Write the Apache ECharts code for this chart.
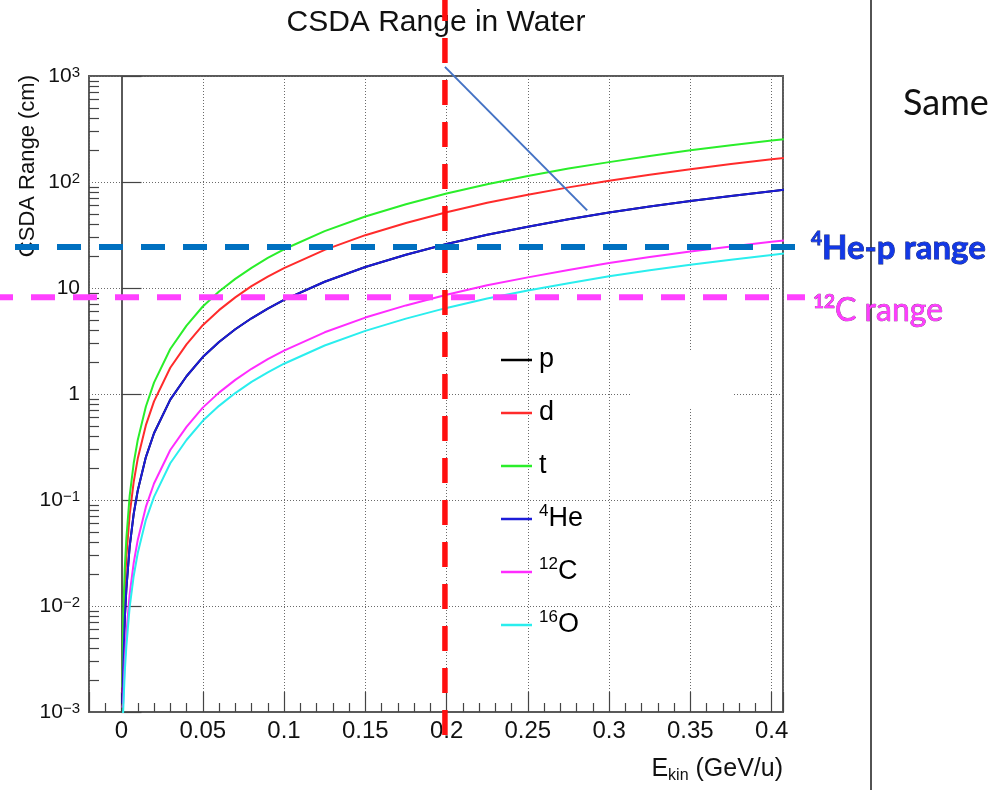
<!DOCTYPE html>
<html>
<head>
<meta charset="utf-8">
<script src="https://cdn.jsdelivr.net/npm/echarts@6/dist/echarts.min.js"></script>
<style>
  html, body { margin: 0; padding: 0; background: #ffffff; }
  #chart { width: 990px; height: 790px; }
</style>
</head>
<body>
<div id="chart"></div>
<script>
// Kinetic energy per nucleon (GeV/u)
const energies = [0.0005, 0.001, 0.002, 0.003, 0.005, 0.0075, 0.01, 0.015, 0.02, 0.03, 0.04, 0.05,
  0.06, 0.07, 0.08, 0.09, 0.10, 0.125, 0.15, 0.175, 0.20, 0.225, 0.25, 0.275, 0.30, 0.325,
  0.35, 0.375, 0.40, 0.41];

// CSDA range in water (cm)
const rangeP = [0.0012, 0.00246, 0.00756, 0.0146, 0.0362, 0.074, 0.123, 0.254, 0.426, 0.885, 1.47, 2.23,
  3.09, 4.08, 5.18, 6.40, 7.72, 11.46, 15.77, 20.56, 25.96, 31.8, 37.9, 44.5, 51.5, 58.7,
  66.2, 73.9, 81.9, 85.1];
const rangeD = [0.0015, 0.0049, 0.0151, 0.0292, 0.0724, 0.148, 0.246, 0.508, 0.852, 1.77, 2.94, 4.46,
  6.18, 8.16, 10.4, 12.8, 15.4, 22.9, 31.5, 41.1, 51.9, 63.6, 75.9, 89.0, 103, 117,
  132, 148, 164, 170];
const rangeT = [0.0017, 0.0074, 0.0227, 0.0438, 0.109, 0.222, 0.369, 0.762, 1.28, 2.66, 4.41, 6.69,
  9.27, 12.2, 15.5, 19.2, 23.2, 34.4, 47.3, 61.7, 77.9, 95.4, 114, 134, 154, 176,
  199, 222, 246, 255];
const rangeHe4 = [0.0012, 0.00246, 0.00756, 0.0146, 0.0362, 0.074, 0.123, 0.254, 0.426, 0.885, 1.47, 2.23,
  3.09, 4.08, 5.18, 6.40, 7.72, 11.46, 15.77, 20.56, 25.96, 31.8, 37.9, 44.5, 51.5, 58.7,
  66.2, 73.9, 81.9, 85.1];
const rangeC12 = [0.0011, 0.0012, 0.0030, 0.0055, 0.0128, 0.0255, 0.042, 0.086, 0.143, 0.296, 0.49, 0.744,
  1.03, 1.36, 1.73, 2.13, 2.57, 3.82, 5.26, 6.85, 8.65, 10.6, 12.6, 14.8, 17.2, 19.6,
  22.1, 24.6, 27.3, 28.4];
const rangeO16 = [0.0009, 0.0010, 0.0024, 0.0042, 0.0097, 0.0192, 0.0316, 0.065, 0.107, 0.222, 0.368, 0.558,
  0.773, 1.02, 1.30, 1.60, 1.93, 2.87, 3.94, 5.14, 6.49, 7.95, 9.49, 11.1, 12.9, 14.7,
  16.6, 18.5, 20.5, 21.3];

const seriesNames = ['p', 'd', 't', 'He4', 'C12', 'O16'];
const seriesValues = [rangeP, rangeD, rangeT, rangeHe4, rangeC12, rangeO16];
const seriesColors = ['#000000', '#ff2b2b', '#2aee2a', '#1c1cd8', '#ff2cff', '#2aeeee'];
// legend text: [mass-number superscript, symbol]
const legendLabels = [['', 'p'], ['', 'd'], ['', 't'], ['4', 'He'], ['12', 'C'], ['16', 'O']];

// axis tick labels
const xTickValues = [0, 0.05, 0.1, 0.15, 0.2, 0.25, 0.3, 0.35, 0.4];
const xTickLabels = ['0', '0.05', '0.1', '0.15', '0.2', '0.25', '0.3', '0.35', '0.4'];
const yTickValues = [0.001, 0.01, 0.1, 1, 10, 100, 1000];
const yTickLabels = [['10', '\u22123'], ['10', '\u22122'], ['10', '\u22121'], ['1', ''], ['10', ''], ['10', '2'], ['10', '3']];

// reference markers
const cutEnergy = 0.199;      // GeV/u
const heRange = 24.4;         // cm
const cRange = 8.2;           // cm
const pointerFrom = [0.199, 1220];
const pointerTo = [0.2865, 54];

const SANS = '"Liberation Sans", Arial, Helvetica, sans-serif';
const SLIDE = 'Lato, "Open Sans", sans-serif';

// log-decade minor tick positions (2..9 within each decade), in log10 units
const minorLogTicks = [];
for (let k = -3; k < 3; k++) {
  for (let m = 2; m <= 9; m++) minorLogTicks.push(k + Math.log10(m));
}

const chart = echarts.init(document.getElementById('chart'), null, { renderer: 'canvas' });

const gridLine = { show: true, lineStyle: { color: '#6a6a6a', width: 1, type: [1, 2] } };

chart.setOption({
  animation: false,
  backgroundColor: '#ffffff',
  grid: {
    left: 89, top: 76, width: 694, height: 636,
    show: true, borderColor: '#5a5a5a', borderWidth: 2, backgroundColor: 'transparent'
  },
  xAxis: {
    type: 'value', min: -0.02, max: 0.407,
    minInterval: 0.05, maxInterval: 0.05,
    axisLine: { show: true, onZero: false, lineStyle: { color: '#5a5a5a', width: 2 } },
    axisTick: { show: true, inside: true, length: 20, lineStyle: { color: '#444', width: 1.2 } },
    minorTick: { show: true, splitNumber: 5, length: 9, lineStyle: { color: '#444', width: 1.2 } },
    splitLine: gridLine,
    axisLabel: {
      show: true, margin: 7, color: '#111', fontFamily: SANS, fontSize: 24,
      showMinLabel: false, showMaxLabel: false,
      formatter: v => {
        const i = xTickValues.findIndex(t => Math.abs(t - v) < 1e-9);
        return i >= 0 ? xTickLabels[i] : '';
      }
    }
  },
  yAxis: [{
    type: 'log', logBase: 10, min: 0.001, max: 1000,
    axisLine: { show: true, lineStyle: { color: '#5a5a5a', width: 2 } },
    axisTick: { show: true, inside: true, length: 20, lineStyle: { color: '#444', width: 1.2 } },
    splitLine: gridLine,
    axisLabel: {
      show: true, margin: 9, color: '#111', fontFamily: SANS, fontSize: 21, lineHeight: 22,
      formatter: v => {
        const i = yTickValues.findIndex(t => Math.abs(Math.log10(t) - Math.log10(v)) < 1e-6);
        if (i < 0) return '';
        const [base, exp] = yTickLabels[i];
        return exp ? base + '{sup|' + exp + '}' : base;
      },
      rich: { sup: { fontFamily: SANS, fontSize: 15, lineHeight: 10, verticalAlign: 'top', color: '#111' } }
    }
  }, {
    // minor decade ticks
    type: 'value', min: -3, max: 3, position: 'left',
    axisLine: { show: false },
    axisLabel: { show: false },
    splitLine: { show: false },
    axisTick: {
      show: true, inside: true, length: 10, customValues: minorLogTicks,
      lineStyle: { color: '#444', width: 1.2 }
    }
  }],
  legend: {
    orient: 'vertical', left: 501, top: 344, padding: 0,
    icon: 'rect', itemWidth: 31, itemHeight: 2.5, itemGap: 21,
    selectedMode: false,
    data: seriesNames,
    formatter: name => {
      const [sup, sym] = legendLabels[seriesNames.indexOf(name)];
      return sup ? '{sup|' + sup + '}' + sym : sym;
    },
    textStyle: {
      fontFamily: SANS, fontSize: 27, color: '#000', lineHeight: 32, padding: [0, 0, 0, 2],
      rich: { sup: { fontFamily: SANS, fontSize: 17, lineHeight: 12, verticalAlign: 'top', color: '#000' } }
    }
  },
  series: seriesNames.map((name, i) => ({
    name: name,
    type: 'line',
    xAxisIndex: 0, yAxisIndex: 0,
    data: energies.map((e, j) => [e, seriesValues[i][j]]),
    symbol: 'none', showSymbol: false,
    smooth: false,
    clip: true, silent: true,
    lineStyle: { color: seriesColors[i], width: 2 },
    itemStyle: { color: seriesColors[i] },
    z: 3 + i
  }))
});

const finder = { xAxisIndex: 0, yAxisIndex: 0 };
const redX = chart.convertToPixel(finder, [cutEnergy, 1])[0];
const heY = chart.convertToPixel(finder, [0, heRange])[1];
const cY = chart.convertToPixel(finder, [0, cRange])[1];
const pA = chart.convertToPixel(finder, pointerFrom);
const pB = chart.convertToPixel(finder, pointerTo);

chart.setOption({
  graphic: [
    {
      type: 'text', x: 436, y: 23, z: 20,
      style: {
        text: 'CSDA Range in Water', fontFamily: SANS, fontSize: 30, fill: '#111',
        align: 'center', verticalAlign: 'middle', textAlign: 'center', textVerticalAlign: 'middle'
      }
    },
    {
      type: 'text', x: 28, y: 75, rotation: Math.PI / 2, z: 20,
      style: {
        text: 'CSDA Range (cm)', fontFamily: SANS, fontSize: 22, fill: '#111',
        align: 'right', verticalAlign: 'middle', textAlign: 'right', textVerticalAlign: 'middle'
      }
    },
    {
      type: 'text', x: 783, y: 769, z: 20,
      style: {
        text: 'E{sub|kin} (GeV/u)', fontFamily: SANS, fontSize: 25, fill: '#111', lineHeight: 30,
        align: 'right', verticalAlign: 'middle', textAlign: 'right', textVerticalAlign: 'middle',
        rich: { sub: { fontFamily: SANS, fontSize: 16, fill: '#111', lineHeight: 14, verticalAlign: 'bottom' } }
      }
    },
    // patch of blank slide over part of the grid
    { type: 'rect', z: 8, shape: { x: 632, y: 350, width: 101, height: 57 }, style: { fill: '#ffffff' } },
    // energy cut marker
    {
      type: 'line', z: 30,
      shape: { x1: redX, y1: -4, x2: redX, y2: 737 },
      style: { stroke: '#ff0f0f', lineWidth: 5.5, lineDash: [25, 17] }
    },
    // pointer to the 4He curve
    {
      type: 'line', z: 31,
      shape: { x1: pA[0], y1: pA[1], x2: pB[0], y2: pB[1] },
      style: { stroke: '#4472c4', lineWidth: 2 }
    },
    // range markers
    {
      type: 'line', z: 30,
      shape: { x1: 15, y1: heY, x2: 795, y2: heY },
      style: { stroke: '#0070c0', lineWidth: 6, lineDash: [24, 18] }
    },
    {
      type: 'line', z: 30,
      shape: { x1: -11, y1: cY, x2: 805, y2: cY },
      style: { stroke: '#ff40ff', lineWidth: 6, lineDash: [24, 18] }
    },
    // slide divider and side text
    {
      type: 'line', z: 30,
      shape: { x1: 871, y1: 0, x2: 871, y2: 790 },
      style: { stroke: '#1a1a1a', lineWidth: 1.5 }
    },
    {
      type: 'text', x: 903, y: 103, z: 30,
      style: {
        text: 'Same', fontFamily: SLIDE, fontSize: 36, fill: '#111',
        align: 'left', verticalAlign: 'middle', textAlign: 'left', textVerticalAlign: 'middle'
      }
    },
    {
      type: 'text', x: 811, y: 248, z: 32,
      style: {
        text: '{sup|4}He-p range', fontFamily: SLIDE, fontSize: 33, fontWeight: 'bold',
        fill: '#1238e6', stroke: '#0d1a66', lineWidth: 0.8, lineHeight: 38,
        align: 'left', verticalAlign: 'middle', textAlign: 'left', textVerticalAlign: 'middle',
        rich: { sup: { fontFamily: SLIDE, fontSize: 19, fontWeight: 'bold', fill: '#1238e6', stroke: '#0d1a66', lineWidth: 0.8, lineHeight: 24, verticalAlign: 'top' } }
      }
    },
    {
      type: 'text', x: 813, y: 311, z: 32,
      style: {
        text: '{sup|12}C range', fontFamily: SLIDE, fontSize: 32,
        fill: '#ff3cff', stroke: '#7a1a7a', lineWidth: 0.6, lineHeight: 38,
        align: 'left', verticalAlign: 'middle', textAlign: 'left', textVerticalAlign: 'middle',
        rich: { sup: { fontFamily: SLIDE, fontSize: 19, fontWeight: 'bold', fill: '#ff3cff', stroke: '#7a1a7a', lineWidth: 0.6, lineHeight: 24, verticalAlign: 'top' } }
      }
    }
  ]
});
</script>
</body>
</html>
